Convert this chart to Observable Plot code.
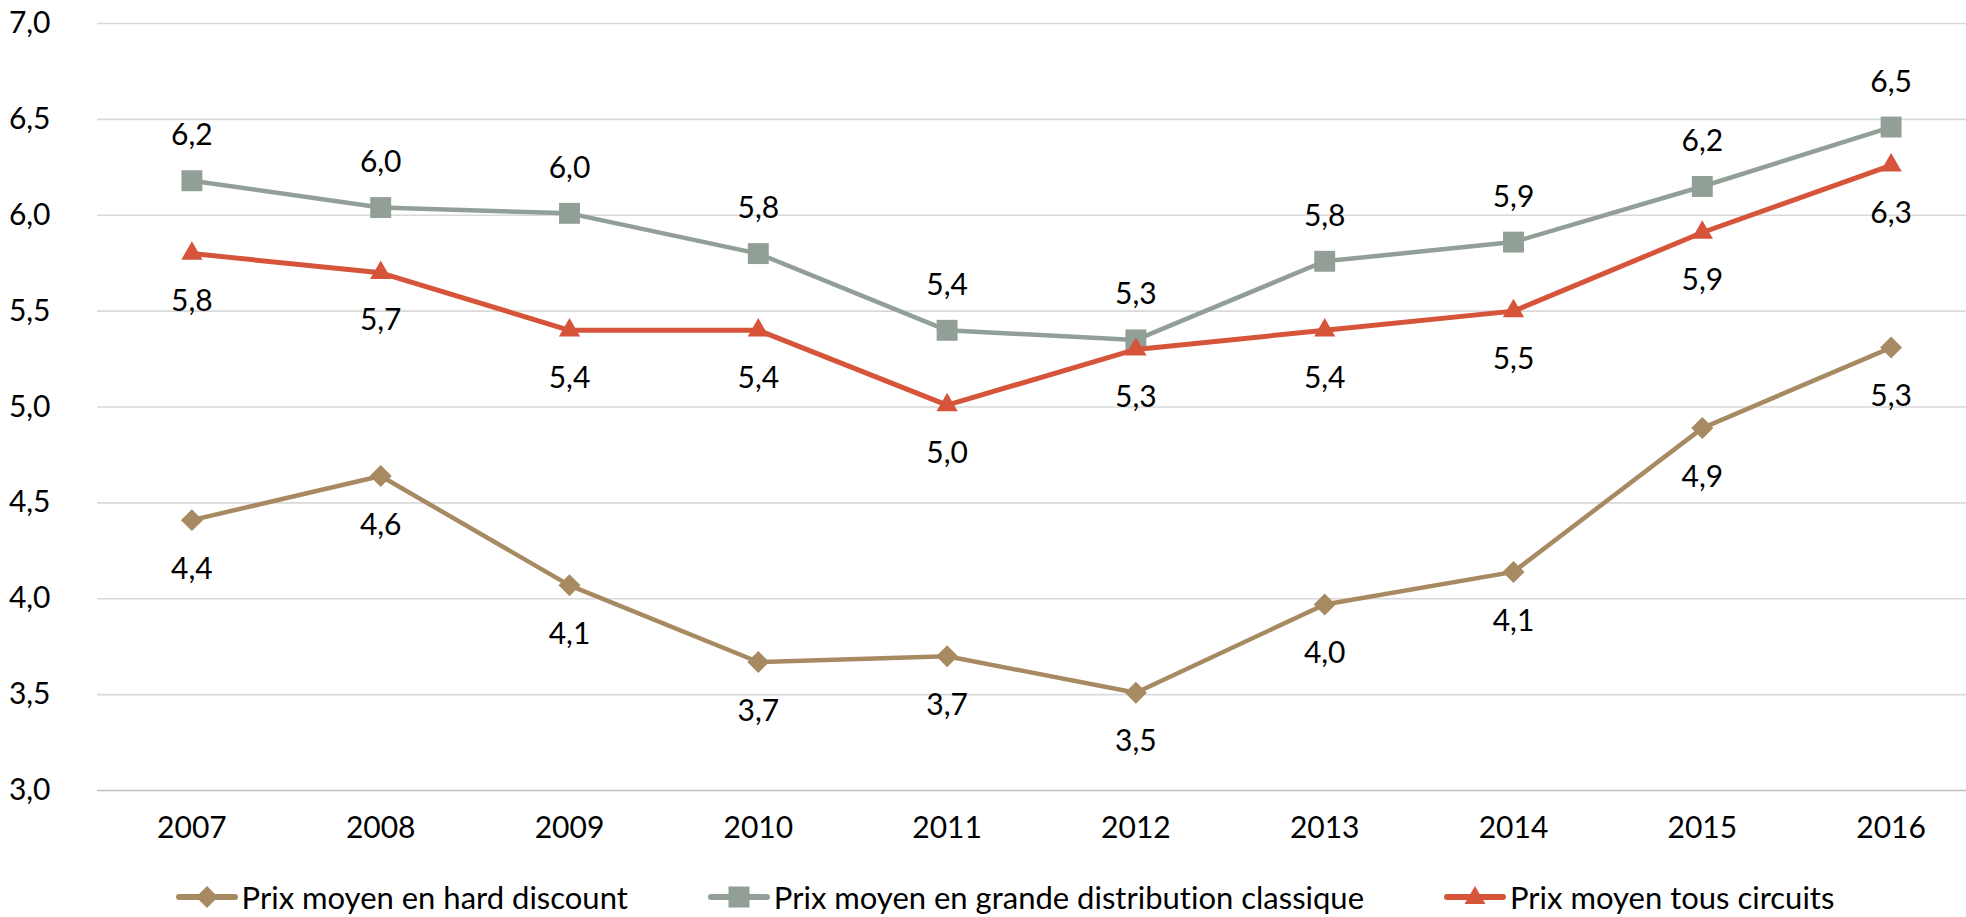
<!DOCTYPE html>
<html>
<head>
<meta charset="utf-8">
<script src="https://cdn.jsdelivr.net/npm/d3@7"></script>
<script src="https://cdn.jsdelivr.net/npm/@observablehq/plot@0.6"></script>
<style>
  html, body { margin: 0; padding: 0; background: #fff; }
  #chart svg { display: block; font-variant-ligatures: none; }
  #legend { display: flex; justify-content: center; align-items: center; gap: 80px; height: 57px; padding-top: 8px; padding-left: 44px;
    font-family: Lato, "Open Sans", sans-serif; font-size: 31px; color: #000; font-variant-ligatures: none; }
  .item { display: flex; align-items: center; gap: 4px; }
</style>
</head>
<body>
<div id="chart"></div>
<div id="legend"></div>
<script>
const years = [2007, 2008, 2009, 2010, 2011, 2012, 2013, 2014, 2015, 2016];
const hardDiscount = [4.41, 4.64, 4.07, 3.67, 3.70, 3.51, 3.97, 4.14, 4.89, 5.31];
const grandeDistribution = [6.18, 6.04, 6.01, 5.80, 5.40, 5.35, 5.76, 5.86, 6.15, 6.46];
const tousCircuits = [5.80, 5.70, 5.40, 5.40, 5.01, 5.30, 5.40, 5.50, 5.91, 6.26];
const seriesNames = ["Prix moyen en hard discount", "Prix moyen en grande distribution classique", "Prix moyen tous circuits"];
const yTicks = [3.0, 3.5, 4.0, 4.5, 5.0, 5.5, 6.0, 6.5, 7.0];

const colors = ["#A88A62", "#919F97", "#D6553A"];
const fmt = v => v.toFixed(1).replace(".", ",");

const mk = arr => years.map((y, i) => ({year: y, value: arr[i]}));
const dTan = mk(hardDiscount), dGray = mk(grandeDistribution), dRed = mk(tousCircuits);

const FONT = "Lato, 'Open Sans', sans-serif";
const FS = 30;

const chart = Plot.plot({
  width: 1966,
  height: 860,
  marginLeft: 97,
  marginRight: 0,
  marginTop: 23,
  marginBottom: 70,
  style: {fontFamily: FONT, fontSize: FS + "px", color: "#000", background: "#fff"},
  x: {domain: [2006.5, 2016.5], range: [97, 1985], label: null},
  y: {domain: [3, 7], label: null},
  marks: [
    Plot.ruleY(yTicks.filter(t => t > 3), {stroke: "#D9D9D9", strokeWidth: 1.6}),
    Plot.ruleY([3], {stroke: "#BFBFBF", strokeWidth: 1.6}),
    Plot.axisY({ticks: yTicks, tickSize: 0, tickPadding: 47, tickFormat: fmt, fontSize: FS, fill: "#000", label: null}),
    Plot.axisX({ticks: years, tickSize: 0, tickPadding: 26, tickFormat: d => String(d), fontSize: FS, fill: "#000", label: null}),
    Plot.line(dTan, {x: "year", y: "value", stroke: colors[0], strokeWidth: 4.5}),
    Plot.dot(dTan, {x: "year", y: "value", symbol: "diamond2", r: 9.9, fill: colors[0], stroke: "none"}),
    Plot.line(dGray, {x: "year", y: "value", stroke: colors[1], strokeWidth: 4.5}),
    Plot.dot(dGray, {x: "year", y: "value", symbol: "square", r: 11.8, fill: colors[1], stroke: "none"}),
    Plot.line(dRed, {x: "year", y: "value", stroke: colors[2], strokeWidth: 5}),
    Plot.dot(dRed, {x: "year", y: "value", symbol: "triangle", r: 7.9, fill: colors[2], stroke: "none"}),
    Plot.text(dTan, {x: "year", y: "value", text: d => fmt(d.value), dy: 49, fontSize: FS, fill: "#000"}),
    Plot.text(dGray, {x: "year", y: "value", text: d => fmt(d.value), dy: -45, fontSize: FS, fill: "#000"}),
    Plot.text(dRed, {x: "year", y: "value", text: d => fmt(d.value), dy: 48, fontSize: FS, fill: "#000"})
  ]
});
document.getElementById("chart").appendChild(chart);

const symbols = [d3.symbolDiamond2, d3.symbolSquare, d3.symbolTriangle];
const sizes = [308, 441, 190];
const legend = d3.select("#legend");
seriesNames.forEach((name, i) => {
  const item = legend.append("div").attr("class", "item");
  const svg = item.append("svg").attr("width", 62).attr("height", 30);
  svg.append("line").attr("x1", 3).attr("x2", 59).attr("y1", 15).attr("y2", 15)
    .attr("stroke", colors[i]).attr("stroke-width", 6).attr("stroke-linecap", "round");
  svg.append("path").attr("d", d3.symbol(symbols[i], sizes[i])()).attr("transform", `translate(31,${i === 2 ? 16 : 15})`)
    .attr("fill", colors[i]);
  item.append("span").text(name);
});
</script>
</body>
</html>
